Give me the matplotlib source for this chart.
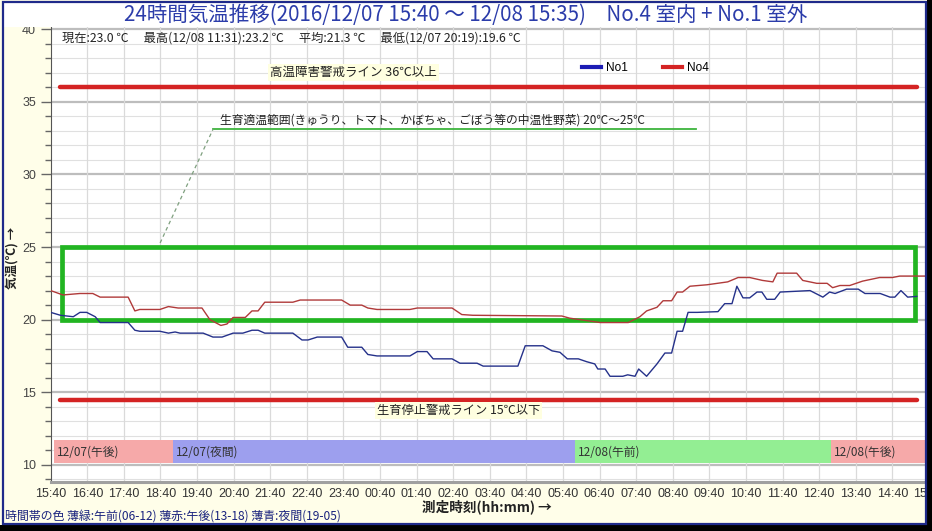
import numpy as np
import matplotlib
matplotlib.use("Agg")
import matplotlib.pyplot as plt
from matplotlib.patches import Rectangle
from matplotlib.lines import Line2D

plt.rcParams["font.family"] = ["Noto Sans CJK JP", "DejaVu Sans"]

# ====================== DATA ======================

title = "24時間気温推移(2016/12/07 15:40 ～ 12/08 15:35)　No.4 室内 + No.1 室外"
stats = "現在:23.0 ℃　 最高(12/08 11:31):23.2 ℃　 平均:21.3 ℃　 最低(12/07 20:19):19.6 ℃"

# No4 (indoor, red)
times4 = ["15:40", "16:00", "16:28", "16:49", "17:01", "17:47", "17:58", "18:06",
          "18:39", "18:53", "19:09", "19:48", "20:01", "20:19", "20:29", "20:39",
          "20:59", "21:10", "21:20", "21:31", "22:17", "22:29", "23:37", "23:51",
          "00:10", "00:20", "00:35", "01:29", "01:41", "02:38", "02:54", "03:12",
          "05:38", "05:51", "06:41", "07:27", "07:46", "07:57", "08:14", "08:24",
          "08:38", "08:47", "08:56", "09:08", "09:36", "10:10", "10:27", "10:46",
          "11:07", "11:24", "11:31", "12:03", "12:13", "12:36", "12:53", "13:02",
          "13:14", "13:30", "13:51", "14:19", "14:40", "14:52", "15:20", "15:35"]
temp4 = [22.0, 21.7, 21.8, 21.8, 21.55, 21.55, 20.6, 20.7,
         20.7, 20.9, 20.8, 20.8, 20.0, 19.6, 19.7, 20.15,
         20.15, 20.6, 20.6, 21.2, 21.2, 21.35, 21.35, 21.0,
         21.0, 20.8, 20.7, 20.7, 20.8, 20.8, 20.35, 20.3,
         20.25, 20.1, 19.8, 19.8, 20.2, 20.6, 20.85, 21.3,
         21.3, 21.9, 21.9, 22.3, 22.4, 22.6, 22.9, 22.9,
         22.7, 22.6, 23.2, 23.2, 22.7, 22.5, 22.5, 22.2,
         22.35, 22.35, 22.65, 22.9, 22.9, 23.0, 23.0, 23.0]

# No1 (outdoor, blue)
times1 = ["15:40", "15:56", "16:17", "16:28", "16:39", "16:53", "17:01", "17:47",
          "17:58", "18:06", "18:39", "18:53", "19:04", "19:12", "19:50", "20:06",
          "20:21", "20:39", "20:55", "21:10", "21:20", "21:31", "22:17", "22:32",
          "22:42", "22:57", "23:37", "23:47", "00:10", "00:20", "00:35", "01:29",
          "01:41", "01:57", "02:07", "02:38", "02:51", "03:19", "03:29", "04:26",
          "04:38", "05:07", "05:22", "05:35", "05:47", "06:05", "06:19", "06:32",
          "06:37", "06:49", "06:57", "07:18", "07:26", "07:38", "07:44", "07:57",
          "08:14", "08:27", "08:38", "08:47", "08:56", "09:05", "09:20", "09:54",
          "10:05", "10:17", "10:25", "10:35", "10:46", "10:58", "11:06", "11:14",
          "11:27", "11:36", "12:25", "12:46", "12:57", "13:06", "13:25", "13:44",
          "13:55", "14:20", "14:36", "14:44", "14:54", "15:05", "15:20"]
temp1 = [20.5, 20.3, 20.2, 20.5, 20.5, 20.2, 19.8, 19.8,
         19.27, 19.2, 19.2, 19.07, 19.15, 19.07, 19.07, 18.8,
         18.8, 19.07, 19.07, 19.27, 19.27, 19.07, 19.07, 18.6,
         18.6, 18.8, 18.8, 18.1, 18.1, 17.6, 17.5, 17.5,
         17.8, 17.8, 17.3, 17.3, 17.0, 17.0, 16.8, 16.8,
         18.2, 18.2, 17.85, 17.75, 17.3, 17.3, 17.1, 16.95,
         16.6, 16.6, 16.1, 16.1, 16.2, 16.1, 16.6, 16.1,
         16.95, 17.7, 17.7, 19.2, 19.2, 20.5, 20.5, 20.55,
         21.1, 21.1, 22.3, 21.5, 21.5, 21.9, 21.9, 21.4,
         21.4, 21.9, 22.0, 21.55, 21.9, 21.8, 22.1, 22.1,
         21.8, 21.8, 21.55, 21.55, 22.0, 21.55, 21.6]

tick_labels = ["15:40", "16:40", "17:40", "18:40", "19:40", "20:40", "21:40", "22:40",
               "23:40", "00:40", "01:40", "02:40", "03:40", "04:40", "05:40", "06:40",
               "07:40", "08:40", "09:40", "10:40", "11:40", "12:40", "13:40", "14:40",
               "15:40"]

band_edges = ["15:45", "19:00", "06:00", "13:00", "15:40"]
band_labels = ["12/07(午後)", "12/07(夜間)", "12/08(午前)", "12/08(午後)"]
band_colors = ["#F6A9A9", "#9D9FEE", "#93EE93", "#F6A9A9"]

high_line = 36.0
low_line = 14.5
range_low, range_high = 20.0, 25.0


def to_hours(times, start="15:40"):
    sh, sm = map(int, start.split(":"))
    base = sh * 60 + sm
    out = []
    for t in times:
        h, m = map(int, t.split(":"))
        v = (h * 60 + m - base) % 1440
        while out and v < out[-1] * 60:
            v += 1440
        out.append(v / 60.0)
    return np.array(out)


# ====================== PLOT ======================

W, H = 932, 531
fig = plt.figure(figsize=(W / 100, H / 100), dpi=100, facecolor="#FFFEE9")


def fx(px):
    return px / W


def fy(py):
    return 1 - py / H


# white title band
fig.patches.append(Rectangle((fx(3), fy(27)), fx(923), 24 / H, transform=fig.transFigure,
                             facecolor="white", edgecolor="none", zorder=0))

ax = fig.add_axes([fx(50.7), fy(482), fx(929 - 50.7), (482 - 27) / H])
ax.set_facecolor("white")
ax.set_xlim(0, 24)
ax.set_ylim(8.82, 40.15)

# grid
for v in range(9, 41):
    major = v % 5 == 0
    ax.axhline(v, color="#BDBDBD" if major else "#E0E0E0", lw=1.6 if major else 0.8, zorder=0)
for h in range(1, 24):
    ax.axvline(h, color="#DADADA", lw=0.9, zorder=0)

# time-of-day bands
edges = to_hours(band_edges)
for i, lab in enumerate(band_labels):
    ax.add_patch(Rectangle((edges[i], 10.12), edges[i + 1] - edges[i], 1.59,
                           facecolor=band_colors[i], edgecolor="none", zorder=1))
    ax.text(edges[i] + 0.08, 10.9, lab, fontsize=8.5, color="#333333", va="center", zorder=2)

# warning lines
ax.plot([0.25, 23.67], [high_line, high_line], color="#D42323", lw=3.2, solid_capstyle="round", zorder=3)
ax.plot([0.25, 23.67], [low_line, low_line], color="#D42323", lw=3.2, solid_capstyle="round", zorder=3)
ax.text(6.0, 37.0, "高温障害警戒ライン 36℃以上", fontsize=9, color="#222222", va="center",
        bbox=dict(boxstyle="square,pad=0.15", facecolor="#FFFFE0", edgecolor="none"), zorder=4)
ax.text(8.92, 13.75, "生育停止警戒ライン 15℃以下", fontsize=8.8, color="#222222", va="center",
        bbox=dict(boxstyle="square,pad=0.15", facecolor="#FFFFE0", edgecolor="none"), zorder=4)

# optimum range box
ax.add_patch(Rectangle((0.31, range_low), 23.61 - 0.31, range_high - range_low,
                       facecolor="none", edgecolor="#22B522", lw=3.4, zorder=5))
ax.plot([4.44, 17.64], [33.13, 33.13], color="#3DB43D", lw=1.3, zorder=3)
ax.plot([2.99, 4.44], [25.28, 33.13], color="#7FA07F", lw=0.9, ls=(0, (3, 2.5)), zorder=3)
ax.text(4.63, 33.72, "生育適温範囲(きゅうり、トマト、かぼちゃ、ごぼう等の中温性野菜) 20℃～25℃",
        fontsize=8.5, color="#222222", va="center", zorder=4)

# data
ax.plot(to_hours(times4), temp4, color="#B03A3A", lw=1.0, zorder=6)
ax.plot(to_hours(times1), temp1, color="#25318A", lw=1.0, zorder=6)

# stats
ax.text(0.31, 39.4, stats, fontsize=8.8, color="#222222", va="center", zorder=4)

# legend
handles = [Line2D([0], [0], color="#1C1CB4", lw=3, label="No1"),
           Line2D([0], [0], color="#D42323", lw=3, label="No4")]
leg = ax.legend(handles=handles, ncol=2, loc="center", bbox_to_anchor=(0.677, 0.91),
                frameon=False, handlelength=1.6, handletextpad=0.4, columnspacing=3.0,
                prop={"family": ["Liberation Sans"], "size": 8.5})

# axes
ax.set_xticks(np.arange(25))
ax.set_xticklabels(tick_labels, fontfamily="Liberation Sans", fontsize=9, color="#333333")
ax.tick_params(axis="x", length=0, pad=4)
ax.set_yticks(np.arange(10, 41, 5))
ax.set_yticks(np.arange(9, 41), minor=True)
ax.set_yticklabels([str(v) for v in range(10, 41, 5)], fontfamily="Liberation Sans",
                   fontsize=9, color="#444444")
ax.tick_params(axis="y", which="major", length=7, color="#666666", width=1)
ax.tick_params(axis="y", which="minor", length=4, color="#666666", width=1)
ax.spines["top"].set_visible(False)
ax.spines["right"].set_visible(False)
ax.spines["left"].set_color("#555555")
ax.spines["bottom"].set_color("#A0A0A0")
ax.spines["bottom"].set_linewidth(2.2)

# titles
fig.text(fx(466), fy(15), title, fontsize=14.8, color="#2B3CAA", ha="center", va="center")
fig.text(fx(487), fy(507), "測定時刻(hh:mm) →", fontsize=9.8, fontweight="bold",
         color="#222222", ha="center", va="center")
fig.text(fx(12), fy(258), "気温(℃) →", fontsize=9, fontweight="bold", color="#222222",
         ha="center", va="center", rotation=90)
fig.text(fx(5), fy(516.5), "時間帯の色 薄緑:午前(06-12) 薄赤:午後(13-18) 薄青:夜間(19-05)",
         fontsize=8.6, color="#1A237E", ha="left", va="center")

# frame
fig.patches.append(Rectangle((fx(927), 0), fx(5), 1, transform=fig.transFigure,
                             facecolor="black", edgecolor="none", zorder=10))
fig.patches.append(Rectangle((0, 0), 1, 6 / H, transform=fig.transFigure,
                             facecolor="black", edgecolor="none", zorder=10))
fig.patches.append(Rectangle((fx(3), fy(524)), fx(923), 522 / H, transform=fig.transFigure,
                             facecolor="none", edgecolor="#1F2A8A", lw=1.6, zorder=11))

fig.savefig("out.png", dpi=100, facecolor=fig.get_facecolor())
